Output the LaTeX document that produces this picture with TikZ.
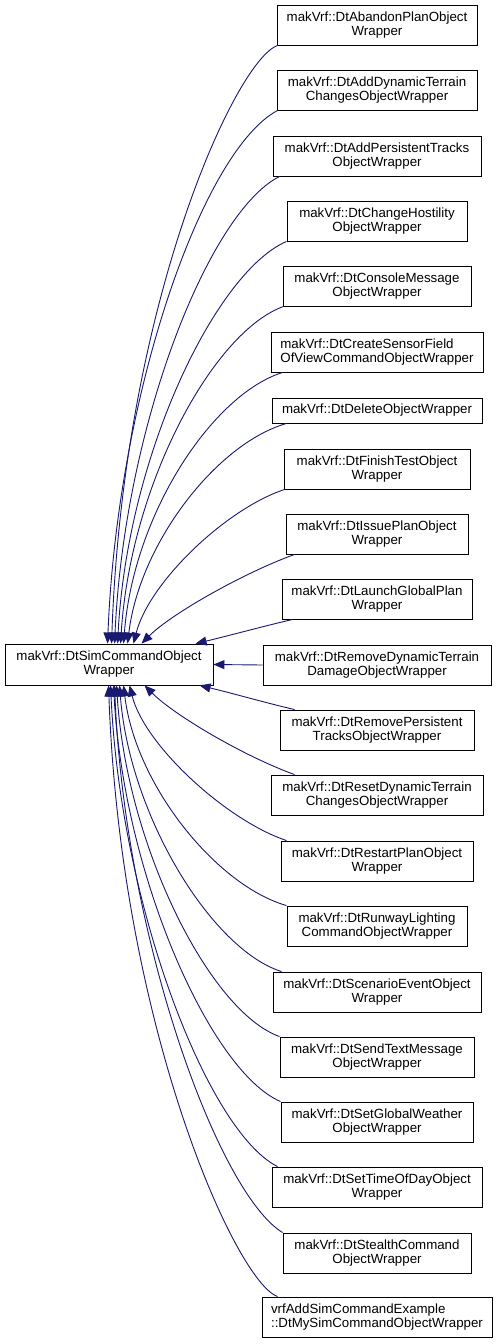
\documentclass[tikz,border=0pt]{standalone}
\usepackage{fontspec}
\setmainfont{Liberation Sans}
\usetikzlibrary{arrows.meta}
\definecolor{edgecol}{HTML}{191970}
\begin{document}
\begin{tikzpicture}[x=1pt,y=-1pt,
  box/.style={draw=black, fill=white, line width=0.9pt, minimum height=40pt, inner sep=0pt, align=center, font=\fontsize{13.3}{14}\selectfont},
  edge/.style={draw=edgecol, line width=0.9pt, -{Triangle[length=11pt,width=9pt]}}]
\useasboundingbox (0,0) rectangle (499,1344);
\node[box, minimum width=208, minimum height=41] (base) at (109,664.5) {makVrf::DtSimCommandObject\\Wrapper};
\node[box, minimum width=200] (n1) at (377,25) {makVrf::DtAbandonPlanObject\\Wrapper};
\node[box, minimum width=200] (n2) at (377,90) {makVrf::DtAddDynamicTerrain\\ChangesObjectWrapper};
\node[box, minimum width=208] (n3) at (377,156) {makVrf::DtAddPersistentTracks\\ObjectWrapper};
\node[box, minimum width=180] (n4) at (377,221) {makVrf::DtChangeHostility\\ObjectWrapper};
\node[box, minimum width=188] (n5) at (377,286) {makVrf::DtConsoleMessage\\ObjectWrapper};
\node[box, minimum width=212, align=left] (n6) at (377,352) {makVrf::DtCreateSensorField\\OfViewCommandObjectWrapper};
\node[box, minimum width=210, minimum height=25] (n7) at (377,410.5) {makVrf::DtDeleteObjectWrapper};
\node[box, minimum width=186] (n8) at (377,469) {makVrf::DtFinishTestObject\\Wrapper};
\node[box, minimum width=182] (n9) at (377,534) {makVrf::DtIssuePlanObject\\Wrapper};
\node[box, minimum width=190] (n10) at (377,599) {makVrf::DtLaunchGlobalPlan\\Wrapper};
\node[box, minimum width=228] (n11) at (377,665) {makVrf::DtRemoveDynamicTerrain\\DamageObjectWrapper};
\node[box, minimum width=194] (n12) at (377,730) {makVrf::DtRemovePersistent\\TracksObjectWrapper};
\node[box, minimum width=212] (n13) at (377,795) {makVrf::DtResetDynamicTerrain\\ChangesObjectWrapper};
\node[box, minimum width=192] (n14) at (377,861) {makVrf::DtRestartPlanObject\\Wrapper};
\node[box, minimum width=180] (n15) at (377,926) {makVrf::DtRunwayLighting\\CommandObjectWrapper};
\node[box, minimum width=208] (n16) at (377,992) {makVrf::DtScenarioEventObject\\Wrapper};
\node[box, minimum width=194] (n17) at (377,1057) {makVrf::DtSendTextMessage\\ObjectWrapper};
\node[box, minimum width=192] (n18) at (377,1122) {makVrf::DtSetGlobalWeather\\ObjectWrapper};
\node[box, minimum width=210] (n19) at (377,1187) {makVrf::DtSetTimeOfDayObject\\Wrapper};
\node[box, minimum width=188] (n20) at (377,1253) {makVrf::DtStealthCommand\\ObjectWrapper};
\node[box, minimum width=230, align=left] (n21) at (377,1317) {vrfAddSimCommandExample\\::DtMySimCommandObjectWrapper};
% upper edges
\draw[edge] ([xshift=1pt]n1.south west) .. controls +(-42,15) and +(12,-340) .. ([xshift=107pt]base.north west);
\draw[edge] ([xshift=1pt]n2.south west) .. controls +(-75,40) and +(10,-250) .. ([xshift=103pt]base.north west);
\draw[edge] ([xshift=7pt]n3.south west) .. controls +(-70,35) and +(10,-220) .. ([xshift=110pt]base.north west);
\draw[edge] (n4.south west) .. controls +(-70,30) and +(10,-190) .. ([xshift=113pt]base.north west);
\draw[edge] ([xshift=1pt]n5.south west) .. controls +(-70,25) and +(10,-160) .. ([xshift=116pt]base.north west);
\draw[edge] ([xshift=12pt]n6.south west) .. controls +(-70,22) and +(10,-130) .. ([xshift=119pt]base.north west);
\draw[edge] ([xshift=15pt]n7.south west) .. controls +(-70,20) and +(12,-100) .. ([xshift=123pt]base.north west);
\draw[edge] ([xshift=1pt]n8.south west) .. controls +(-60,20) and +(15,-60) .. ([xshift=129pt]base.north west);
\draw[edge] ([xshift=9pt]n9.south west) .. controls +(-50,18) and +(30,-30) .. ([xshift=137pt]base.north west);
\draw[edge] ([xshift=11pt]n10.south west) .. controls +(-30,7) and +(30,-7) .. ([xshift=191pt]base.north west);
\draw[edge] (n11.west) -- (base.east);
% lower edges
\draw[edge] ([xshift=15pt]n12.north west) .. controls +(-30,-7) and +(30,7) .. ([xshift=195pt]base.south west);
\draw[edge] ([xshift=24pt]n13.north west) .. controls +(-50,-18) and +(30,30) .. ([xshift=140pt]base.south west);
\draw[edge] ([xshift=6pt]n14.north west) .. controls +(-60,-20) and +(15,60) .. ([xshift=125pt]base.south west);
\draw[edge] (n15.north west) .. controls +(-70,-20) and +(12,100) .. ([xshift=119pt]base.south west);
\draw[edge] ([xshift=9pt]n16.north west) .. controls +(-70,-22) and +(10,130) .. ([xshift=115pt]base.south west);
\draw[edge] (n17.north west) .. controls +(-70,-25) and +(10,160) .. ([xshift=112pt]base.south west);
\draw[edge] (n18.north west) .. controls +(-70,-30) and +(10,190) .. ([xshift=109pt]base.south west);
\draw[edge] ([xshift=6pt]n19.north west) .. controls +(-70,-35) and +(10,220) .. ([xshift=106pt]base.south west);
\draw[edge] (n20.north west) .. controls +(-65,-40) and +(10,250) .. ([xshift=110pt]base.south west);
\draw[edge] ([xshift=16pt]n21.north west) .. controls +(-42,-15) and +(12,340) .. ([xshift=104pt]base.south west);
\end{tikzpicture}
\end{document}
